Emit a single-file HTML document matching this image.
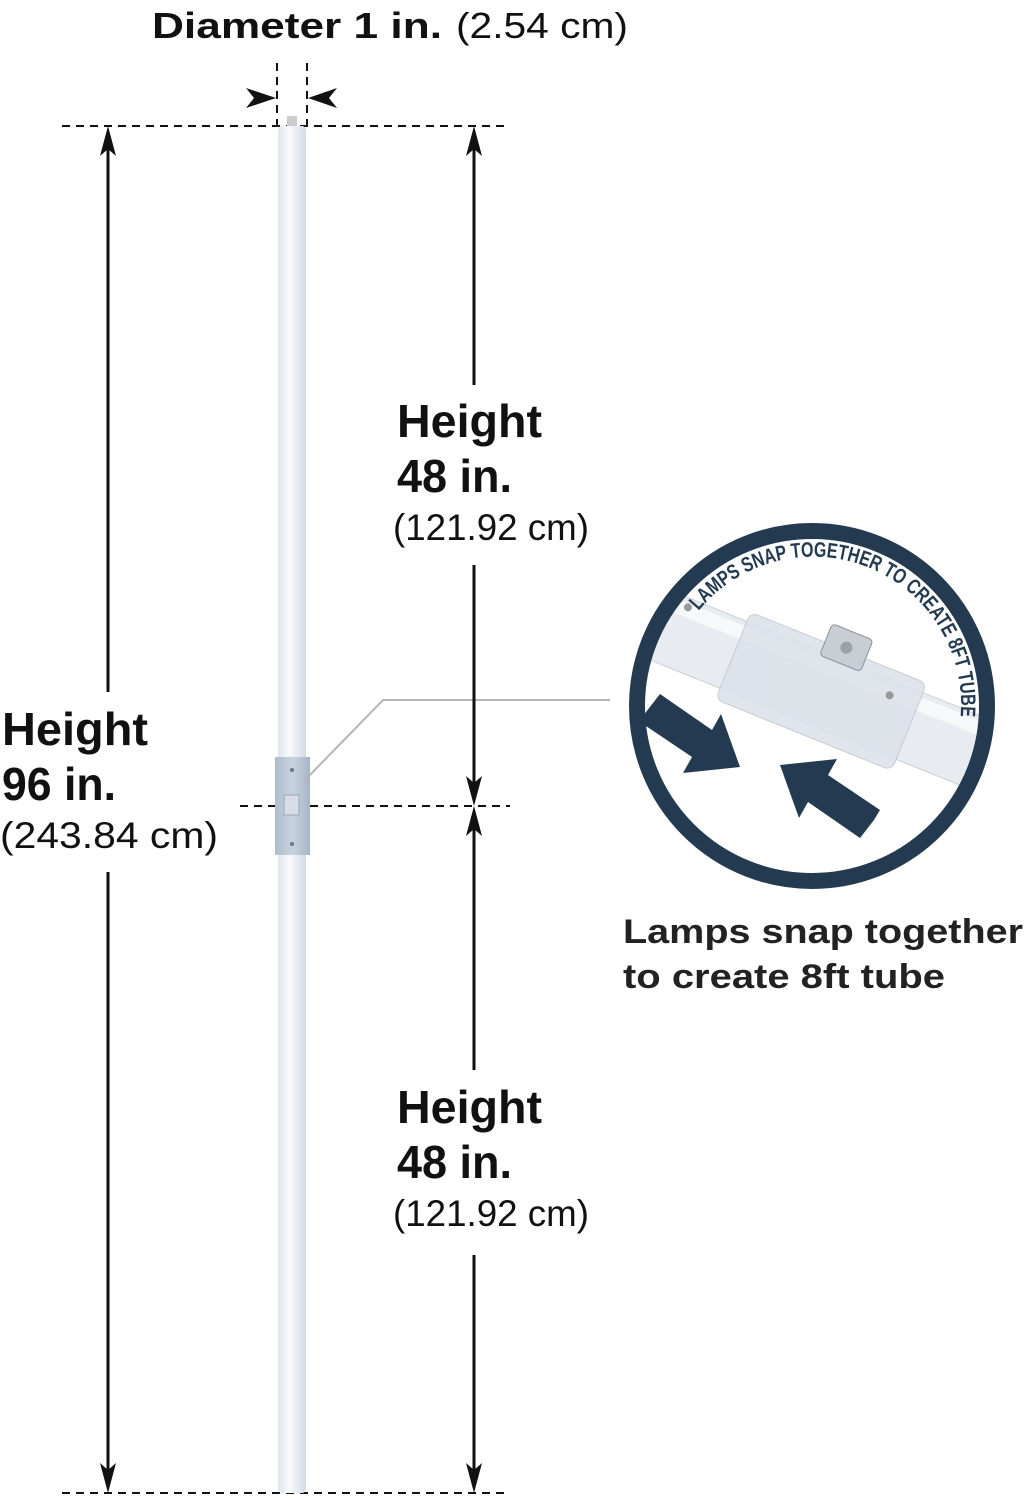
<!DOCTYPE html>
<html><head><meta charset="utf-8"><style>
html,body{margin:0;padding:0;background:#fff;}
svg{display:block;}
text{font-family:"Liberation Sans",sans-serif;fill:#111;}
.b{font-weight:bold;}
</style></head><body>
<svg width="1026" height="1500" viewBox="0 0 1026 1500" xmlns="http://www.w3.org/2000/svg">
<defs>
<linearGradient id="tube" x1="0" x2="1" y1="0" y2="0">
<stop offset="0" stop-color="#dfe6ef"/><stop offset="0.4" stop-color="#f8fafd"/><stop offset="1" stop-color="#d3dbe6"/>
</linearGradient>
<linearGradient id="conn" x1="0" x2="1" y1="0" y2="0">
<stop offset="0" stop-color="#aebdcd"/><stop offset="0.5" stop-color="#c8d3df"/><stop offset="1" stop-color="#a6b5c6"/>
</linearGradient>
<clipPath id="cc"><circle cx="812" cy="706" r="172"/></clipPath>
<path id="arc" d="M 698.6 610.9 A 148 148 0 0 1 959.4 727.0"/>
</defs>

<text x="152" y="38" class="b" font-size="36" textLength="290" lengthAdjust="spacingAndGlyphs">Diameter 1 in.</text>
<text x="456" y="38" font-size="36" textLength="172" lengthAdjust="spacingAndGlyphs">(2.54 cm)</text>

<g stroke="#111" stroke-width="2" stroke-dasharray="8,6">
<line x1="277" y1="63" x2="277" y2="126"/><line x1="307" y1="63" x2="307" y2="126"/>
<line x1="62" y1="126" x2="510" y2="126"/>
<line x1="240" y1="806" x2="510" y2="806"/>
<line x1="62" y1="1493" x2="510" y2="1493"/>
</g>
<polygon points="246,88 276,98 246,108 254,98" fill="#111"/>
<polygon points="337,88 308,98 337,108 329,98" fill="#111"/>

<rect x="287" y="116" width="10" height="12" fill="#ccc"/>
<rect x="278" y="126" width="28" height="1367" rx="4" fill="url(#tube)"/>
<rect x="275" y="757" width="35" height="98" fill="url(#conn)"/>
<rect x="284" y="795" width="15" height="20" fill="#d6dde6" stroke="#9aa8b8"/>
<circle cx="292" cy="770" r="2" fill="#6a7786"/><circle cx="292" cy="844" r="2" fill="#6a7786"/>
<polyline points="305,780 383,700 610,700" fill="none" stroke="#b5b5b5" stroke-width="2"/>

<g stroke="#111" stroke-width="3">
<line x1="108" y1="135" x2="108" y2="692"/><line x1="108" y1="872" x2="108" y2="1484"/>
<line x1="474" y1="135" x2="474" y2="385"/><line x1="474" y1="565" x2="474" y2="797"/>
<line x1="474" y1="815" x2="474" y2="1070"/><line x1="474" y1="1255" x2="474" y2="1484"/>
</g>
<g fill="#111">
<polygon points="108,126 100,156 108,149 116,156"/>
<polygon points="108,1493 100,1463 108,1470 116,1463"/>
<polygon points="474,126 466,156 474,149 482,156"/>
<polygon points="474,806 466,776 474,783 482,776"/>
<polygon points="474,806 466,836 474,829 482,836"/>
<polygon points="474,1493 466,1463 474,1470 482,1463"/>
</g>

<text x="2" y="745" class="b" font-size="46" textLength="146" lengthAdjust="spacingAndGlyphs">Height</text>
<text x="2" y="800" class="b" font-size="46" textLength="114" lengthAdjust="spacingAndGlyphs">96 in.</text>
<text x="0" y="848" font-size="37" textLength="218" lengthAdjust="spacingAndGlyphs">(243.84 cm)</text>

<text x="397" y="437" class="b" font-size="46" textLength="145" lengthAdjust="spacingAndGlyphs">Height</text>
<text x="397" y="492" class="b" font-size="46" textLength="115" lengthAdjust="spacingAndGlyphs">48 in.</text>
<text x="393" y="540" font-size="37" textLength="196" lengthAdjust="spacingAndGlyphs">(121.92 cm)</text>

<text x="397" y="1123" class="b" font-size="46" textLength="145" lengthAdjust="spacingAndGlyphs">Height</text>
<text x="397" y="1178" class="b" font-size="46" textLength="115" lengthAdjust="spacingAndGlyphs">48 in.</text>
<text x="393" y="1226" font-size="37" textLength="196" lengthAdjust="spacingAndGlyphs">(121.92 cm)</text>

<text x="623" y="943" class="b" font-size="34" textLength="400" lengthAdjust="spacingAndGlyphs" style="fill:#222">Lamps snap together</text>
<text x="623" y="988" class="b" font-size="34" textLength="322" lengthAdjust="spacingAndGlyphs" style="fill:#222">to create 8ft tube</text>

<circle cx="812" cy="706" r="174" fill="#fff"/>
<g clip-path="url(#cc)">
<g transform="rotate(22 812 706)">
<rect x="560" y="652" width="520" height="72" fill="#e8ecf0" stroke="#c9cfd6"/>
<rect x="560" y="657" width="520" height="14" fill="#f7f8fa"/>
<rect x="720" y="642" width="190" height="94" rx="8" fill="#dde3ea" stroke="#c0c8d1" opacity="0.9"/>
<rect x="800" y="622" width="44" height="34" rx="4" fill="#c9ced4" stroke="#8a939c"/>
<circle cx="822" cy="639" r="6" fill="#9aa2aa"/>
<circle cx="660" cy="661" r="4" fill="#999"/><circle cx="880" cy="667" r="4" fill="#999"/>
</g>
<polygon points="646,712 660,694 712,730 721,714 740,767 683,773 692,757 640,722" fill="#243a50"/>
<polygon points="874,820 860,838 808,802 799,818 780,765 837,759 828,775 880,810" fill="#243a50"/>
</g>
<circle cx="812" cy="706" r="175" fill="none" stroke="#243a50" stroke-width="16"/>
<text font-size="21" class="b" style="fill:#243a50">
<textPath href="#arc" textLength="375" lengthAdjust="spacingAndGlyphs">LAMPS SNAP TOGETHER TO CREATE 8FT TUBE</textPath>
</text>
</svg>
</body></html>
